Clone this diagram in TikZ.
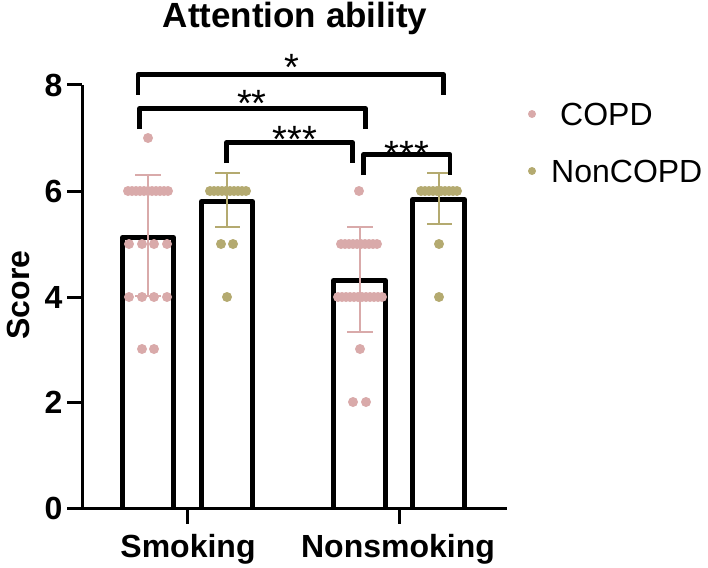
\documentclass[tikz,border=0pt]{standalone}
\usepackage{fontspec}
\setmainfont{Liberation Sans}
\definecolor{copdpink}{RGB}{217,170,170}
\definecolor{nonolive}{RGB}{180,170,112}
\tikzset{
  axis/.style={line width=3pt},
  bar/.style={line width=5pt, line join=round},
  sigline/.style={line width=4.5pt, line join=round},
  errline/.style={line width=2pt},
  copd/.style={fill=copdpink},
  noncopd/.style={fill=nonolive},
  ticklab/.style={font=\bfseries\fontsize{32}{36}\selectfont, inner sep=3pt},
  axlab/.style={font=\bfseries\fontsize{32}{36}\selectfont, inner sep=0pt},
  stars/.style={font=\fontsize{38}{40}\selectfont, inner sep=0pt, anchor=base},
  legtext/.style={font=\fontsize{32}{36}\selectfont, inner sep=0pt, anchor=base west}
}

\begin{document}
\begin{tikzpicture}[x=1pt,y=-1pt]
\useasboundingbox (0,0) rectangle (708,567);
% title and axis labels
\node[axlab, font=\bfseries\fontsize{35}{40}\selectfont, anchor=base] (title) at (295,28) {Attention ability};
\node[axlab, rotate=90] (score) at (18,295) {Score};
% axes
\draw[axis] (82,85) -- (82,508) -- (507,508);
\foreach \v/\y in {0/508,2/402,4/297,6/191,8/85}
  \draw[axis] (67,\y) node[ticklab, anchor=east] (tick\v) {\v} -- (82,\y);
\draw[axis] (187,508) -- (187,524);
\draw[axis] (399,508) -- (399,524);
\node[axlab, anchor=base] (smoking) at (188,557) {Smoking};
\node[axlab, anchor=base] (nonsmoking) at (398,557) {Nonsmoking};
% bars
\draw[bar] (122.5,508) -- (122.5,237.5) -- (173.5,237.5) -- (173.5,508);
\draw[bar] (201.5,508) -- (201.5,201.5) -- (252.5,201.5) -- (252.5,508);
\draw[bar] (333.5,508) -- (333.5,280.5) -- (385.5,280.5) -- (385.5,508);
\draw[bar] (412.5,508) -- (412.5,199.5) -- (464.5,199.5) -- (464.5,508);
% smoking, COPD
\fill[copd] (148,138) circle (5pt);
\foreach \x in {128,132,...,168} \fill[copd] (\x,191) circle (5pt);
\foreach \x in {129,142,154,167} \fill[copd] (\x,244) circle (5pt);
\foreach \x in {129,142,154,167} \fill[copd] (\x,297) circle (5pt);
\foreach \x in {142,154} \fill[copd] (\x,349) circle (5pt);
\draw[errline, copdpink] (135,175) -- (161,175) (148,175) -- (148,296) (135,296) -- (161,296);
% smoking, NonCOPD
\foreach \x in {210,214,...,246} \fill[noncopd] (\x,191) circle (5pt);
\foreach \x in {221,233} \fill[noncopd] (\x,244) circle (5pt);
\fill[noncopd] (227,297) circle (5pt);
\draw[errline, nonolive] (215,173) -- (240,173) (227,173) -- (227,227) (215,227) -- (240,227);
% nonsmoking, COPD
\fill[copd] (359,191) circle (5pt);
\foreach \x in {341,345,...,377} \fill[copd] (\x,244) circle (5pt);
\foreach \x in {338,342,...,382} \fill[copd] (\x,297) circle (5pt);
\fill[copd] (360,349) circle (5pt);
\foreach \x in {353,366} \fill[copd] (\x,402) circle (5pt);
\draw[errline, copdpink] (347,227) -- (373,227) (360,227) -- (360,332) (347,332) -- (373,332);
% nonsmoking, NonCOPD
\foreach \x in {421,425,...,457} \fill[noncopd] (\x,191) circle (5pt);
\fill[noncopd] (439,244) circle (5pt);
\fill[noncopd] (439,297) circle (5pt);
\draw[errline, nonolive] (427,173) -- (452,173) (439,173) -- (439,224) (427,224) -- (452,224);
% significance
\draw[sigline] (138,95) -- (138,74.5) -- (443.5,74.5) -- (443.5,95);
\node[stars] (sig1) at (292,81) {*};
\draw[sigline] (139.5,129) -- (139.5,108.5) -- (365.5,108.5) -- (365.5,129);
\node[stars] (sig2) at (252,116) {**};
\draw[sigline] (226.5,163) -- (226.5,142.5) -- (352.5,142.5) -- (352.5,163);
\node[stars] (sig3) at (295,152) {***};
\draw[sigline] (363.5,175) -- (363.5,154.5) -- (450,154.5) -- (450,175);
\node[stars] (sig4) at (407,167) {***};
% legend
\fill[copd] (532,114) circle (4pt);
\node[legtext] (legcopd) at (560,125) {COPD};
\fill[noncopd] (532,171) circle (4pt);
\node[legtext] (legnon) at (551,182) {NonCOPD};
\end{tikzpicture}
\end{document}
